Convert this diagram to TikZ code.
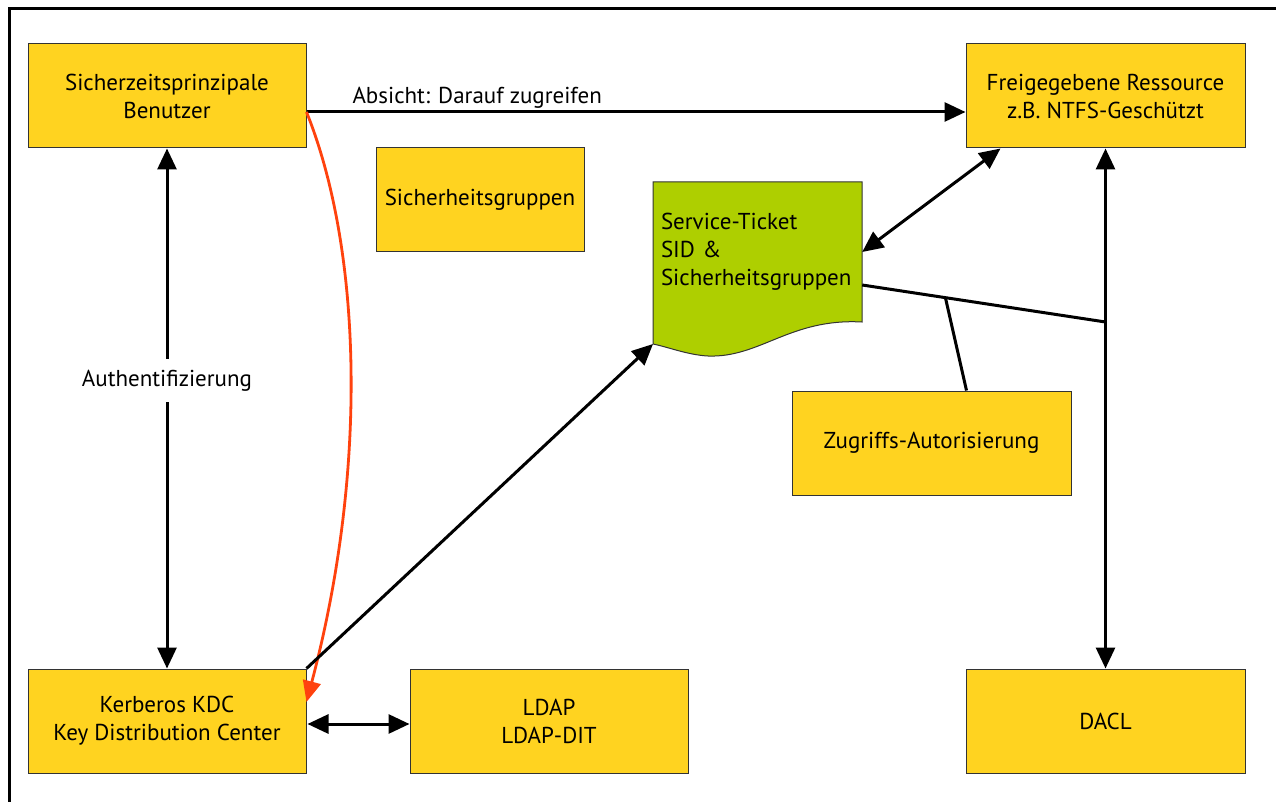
\documentclass[tikz,border=0pt]{standalone}
\usepackage{fontspec}
\setmainfont{PT Sans}
\usetikzlibrary{arrows.meta,calc}
\definecolor{boxyellow}{HTML}{FFD320}
\definecolor{ticketgreen}{HTML}{AECF00}
\definecolor{flowred}{HTML}{FF420E}
\begin{document}
\begin{tikzpicture}[x=1pt,y=-1pt,
  txt/.style={font=\fontsize{23}{28}\selectfont},
  box/.style={txt, draw=black!80, line width=1pt, fill=boxyellow,
    minimum width=278pt, minimum height=104pt, inner sep=0pt, align=center},
  conn/.style={line width=3pt, line join=miter},
  arr/.style={conn, -{Triangle[length=21pt,width=19pt]}},
  dblarr/.style={conn, {Triangle[length=21pt,width=19pt]}-{Triangle[length=21pt,width=19pt]}},
  redarr/.style={flowred, line width=2.8pt, -{Triangle[length=21pt,width=18pt]}}]
\useasboundingbox (0,0) rectangle (1276,802);

% frame
\draw[line width=3pt] (9,802) -- (9,9) -- (1276,9);

% boxes
\node[box] (ben) at (167,96) {Sicherzeitsprinzipale\\Benutzer};
\node[box, minimum width=279pt] (res) at (1105.5,96) {Freigegebene Ressource\\z.B. NTFS-Geschützt};
\node[box, minimum width=208pt] (grp) at (480,200) {Sicherheitsgruppen};
\node[box, minimum width=279pt] (zug) at (931.5,443) {Zugriffs-Autorisierung};
\node[box] (kdc) at (167,721) {Kerberos KDC\\Key Distribution Center};
\node[box] (ldap) at (549,721) {LDAP\\LDAP-DIT};
\node[box, minimum width=279pt] (dacl) at (1105.5,721) {DACL};

% service ticket (document shape)
\filldraw[fill=ticketgreen, draw=black!80, line width=1pt]
  (653,182) -- (862,182) -- (862,322)
  .. controls (790,318) and (760,358) .. (708,356)
  .. controls (688,355) and (668,347) .. (653,344) -- cycle;
\node[txt, minimum width=209pt, minimum height=140pt, text width=193pt,
  inner xsep=8pt, align=left] (tkt) at (757.5,252)
  {Service-Ticket\\SID \&\\Sicherheitsgruppen};
\coordinate (tktbl) at (653,344);
\coordinate (junc) at (1105.5,322);

% connectors
\draw[arr] ([yshift=-16pt]ben.east) -- node[txt, pos=0.259, anchor=south, inner sep=2pt] (intent) {Absicht: Darauf zugreifen} ([yshift=-16pt]res.west);
\draw[dblarr] (ben.south) -- node[txt, pos=0.446, fill=white, inner xsep=2pt, inner ysep=11pt] (auth) {Authentifizierung} (kdc.north);
\draw[redarr] ([yshift=-16pt]ben.east) .. controls (362,250) and (368,470) .. ([yshift=19pt]kdc.east);
\draw[arr] (kdc.north east) -- (tktbl);
\draw[dblarr] ([xshift=1pt]kdc.east |- 0,724) -- (ldap.west |- 0,724);
\draw[dblarr] (tkt.east) -- ($(res.south west)+(35,0)$);
\draw[dblarr] (res.south) -- (dacl.north);
\draw[conn] ([yshift=-33pt]tkt.east) -- (junc);
\draw[conn] ($([yshift=-33pt]tkt.east)!0.342!(junc)$) -- ($(zug.north west)+(175,0)$);
\end{tikzpicture}
\end{document}
